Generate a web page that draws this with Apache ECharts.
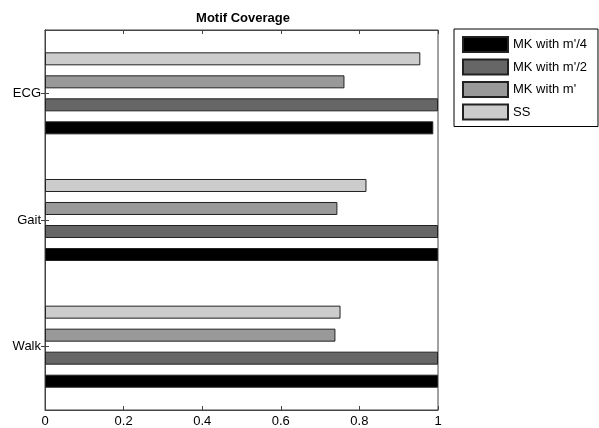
<!DOCTYPE html>
<html>
<head>
<meta charset="utf-8">
<script src="https://cdn.jsdelivr.net/npm/echarts@6/dist/echarts.min.js"></script>
<style>
  html, body { margin: 0; padding: 0; background: #fff; }
  #chart { width: 599px; height: 428px; }
</style>
</head>
<body>
<div id="chart"></div>
<script>
// Datasets along the category axis (listed bottom to top)
const categories = ['Walk', 'Gait', 'ECG'];

// Coverage per method, one value per dataset
const mkQuarter = [1.0, 1.0, 0.988];     // MK with m'/4
const mkHalf    = [1.0, 1.0, 1.0];       // MK with m'/2
const mkFull    = [0.739, 0.744, 0.762]; // MK with m'
const ssValues  = [0.752, 0.818, 0.955]; // SS

const seriesNames = ["MK with m'/4", "MK with m'/2", "MK with m'", 'SS'];
const xTicks = [0, 0.2, 0.4, 0.6, 0.8, 1];

const fills = ['#000000', '#666666', '#999999', '#cccccc'];
const values = [mkQuarter, mkHalf, mkFull, ssValues];

const font = 'Liberation Sans, Arial, Helvetica, sans-serif';
const axisColor = '#444';

const chart = echarts.init(document.getElementById('chart'), null, { renderer: 'canvas' });

// Horizontal bars stack their series top-down inside a group, so the
// series list is reversed to put m'/4 at the bottom and SS on top.
const series = values.map((vals, i) => ({
  name: seriesNames[i],
  type: 'bar',
  data: vals,
  barWidth: 13,
  barGap: '77%',
  itemStyle: { color: fills[i], borderColor: '#222', borderWidth: 1 },
  emphasis: { disabled: true },
  silent: true
})).reverse();

chart.setOption({
  animation: false,
  title: {
    text: 'Motif Coverage',
    left: 238,
    top: 7,
    textAlign: 'center',
    textStyle: { fontFamily: font, fontSize: 13, fontWeight: 'bold', color: '#000' }
  },
  legend: {
    data: seriesNames,
    orient: 'vertical',
    left: 454,
    top: 29,
    padding: [7, 11, 6, 8],
    itemWidth: 45,
    itemHeight: 15,
    itemGap: 5.5,
    backgroundColor: '#fff',
    borderColor: '#000',
    borderWidth: 1,
    borderRadius: 0,
    icon: 'rect',
    selectedMode: false,
    textStyle: { fontFamily: font, fontSize: 13, color: '#000' }
  },
  grid: {
    left: 45,
    top: 30,
    width: 393,
    height: 381,
    show: true,
    borderColor: axisColor,
    borderWidth: 1,
    backgroundColor: '#fff'
  },
  xAxis: [
    {
      type: 'value',
      min: xTicks[0],
      max: xTicks[xTicks.length - 1],
      interval: 0.2,
      position: 'bottom',
      axisLine: { show: true, lineStyle: { color: axisColor } },
      axisTick: { show: true, inside: true, length: 4, lineStyle: { color: axisColor } },
      splitLine: { show: false },
      axisLabel: {
        fontFamily: font, fontSize: 13, color: '#000', margin: 5,
        formatter: v => String(Math.round(v * 10) / 10)
      }
    },
    {
      type: 'value',
      min: xTicks[0],
      max: xTicks[xTicks.length - 1],
      interval: 0.2,
      position: 'top',
      axisLine: { show: true, lineStyle: { color: axisColor } },
      axisTick: { show: true, inside: true, length: 4, lineStyle: { color: axisColor } },
      splitLine: { show: false },
      axisLabel: { show: false }
    }
  ],
  yAxis: [
    {
      type: 'category',
      data: categories,
      position: 'left',
      axisLine: { show: true, lineStyle: { color: axisColor } },
      axisTick: { show: true, inside: true, length: 4, alignWithLabel: true, lineStyle: { color: axisColor } },
      axisLabel: { fontFamily: font, fontSize: 13, color: '#000', margin: 4 },
      splitLine: { show: false }
    },
    {
      type: 'category',
      data: categories,
      position: 'right',
      axisLine: { show: true, lineStyle: { color: axisColor } },
      axisTick: { show: true, inside: true, length: 4, alignWithLabel: true, lineStyle: { color: axisColor } },
      axisLabel: { show: false },
      splitLine: { show: false }
    }
  ],
  series: series
});
</script>
</body>
</html>
